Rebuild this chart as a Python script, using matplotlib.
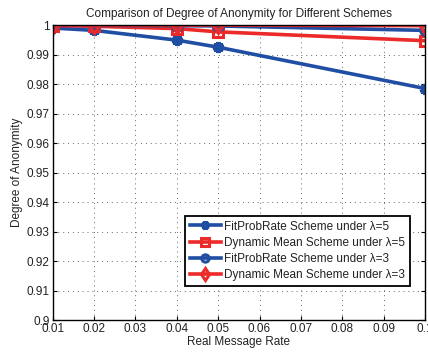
import matplotlib
matplotlib.use("Agg")
import matplotlib.pyplot as plt
from matplotlib.ticker import FixedLocator, FixedFormatter

x = [0.01, 0.02, 0.04, 0.05, 0.1]
fit5 = [0.9990, 0.9982, 0.9949, 0.9925, 0.9785]
dyn5 = [0.9998, 0.9996, 0.9988, 0.9977, 0.9947]
fit3 = [0.9999, 0.9999, 0.9998, 0.9997, 0.9982]
dyn3 = [1.0, 1.0, 1.0, 1.0, 0.9998]
labels = ["FitProbRate Scheme under \u03bb=5", "Dynamic Mean Scheme under \u03bb=5",
          "FitProbRate Scheme under \u03bb=3", "Dynamic Mean Scheme under \u03bb=3"]
xticks = [0.01, 0.02, 0.03, 0.04, 0.05, 0.06, 0.07, 0.08, 0.09, 0.1]
xticklabels = ["0.01", "0.02", "0.03", "0.04", "0.05", "0.06", "0.07", "0.08", "0.09", "0.1"]
yticks = [0.9, 0.91, 0.92, 0.93, 0.94, 0.95, 0.96, 0.97, 0.98, 0.99, 1.0]
yticklabels = ["0.9", "0.91", "0.92", "0.93", "0.94", "0.95", "0.96", "0.97", "0.98", "0.99", "1"]

plt.rcParams['font.family'] = ['Liberation Sans', 'DejaVu Sans']
blue = '#1f4ea3'
red = '#ec2a2a'
txt = '#222222'

fig = plt.figure(figsize=(4.28, 3.53), dpi=100)
ax = fig.add_axes([0.123, 0.093, 0.870, 0.836])

ax.plot(x, fit5, color=blue, lw=2.6, marker=(6, 2, 0), ms=8, mew=3, label=labels[0])
ax.plot(x, dyn5, color=red, lw=2.6, marker='s', ms=7, mfc='none', mew=2.2, label=labels[1])
ax.plot(x, fit3, color=blue, lw=2.6, marker='o', ms=7, mfc='none', mew=2.2, label=labels[2])
ax.plot(x, dyn3, color=red, lw=2.6, marker='d', ms=8, mfc='none', mew=2.2, label=labels[3])

ax.set_xlim(0.01, 0.1)
ax.set_ylim(0.9, 1.0)
ax.xaxis.set_major_locator(FixedLocator(xticks))
ax.xaxis.set_major_formatter(FixedFormatter(xticklabels))
ax.yaxis.set_major_locator(FixedLocator(yticks))
ax.yaxis.set_major_formatter(FixedFormatter(yticklabels))
ax.tick_params(direction='in', labelsize=8.5, length=3, top=True, right=True,
               labelcolor=txt, pad=2)
ax.grid(True, linestyle=(0, (1, 4)), color='#666666', lw=0.7)
for s in ax.spines.values():
    s.set_linewidth(1.0)

ax.set_xlabel("Real Message Rate", fontsize=8.5, labelpad=1, color=txt)
ax.set_ylabel("Degree of Anonymity", fontsize=8.5, labelpad=3, color=txt)
ax.set_title("Comparison of Degree of Anonymity for Different Schemes", fontsize=8.5, pad=6, color=txt)

leg = ax.legend(loc='lower right', bbox_to_anchor=(0.975, 0.097), fontsize=8.5, frameon=True,
                fancybox=False, edgecolor='black', framealpha=1, borderpad=0.4,
                labelspacing=0.35, handlelength=2.6, handletextpad=0.3, markerscale=0.75)
leg.get_frame().set_linewidth(1.3)
for t in leg.get_texts():
    t.set_color(txt)

fig.savefig("out.png", dpi=100)
